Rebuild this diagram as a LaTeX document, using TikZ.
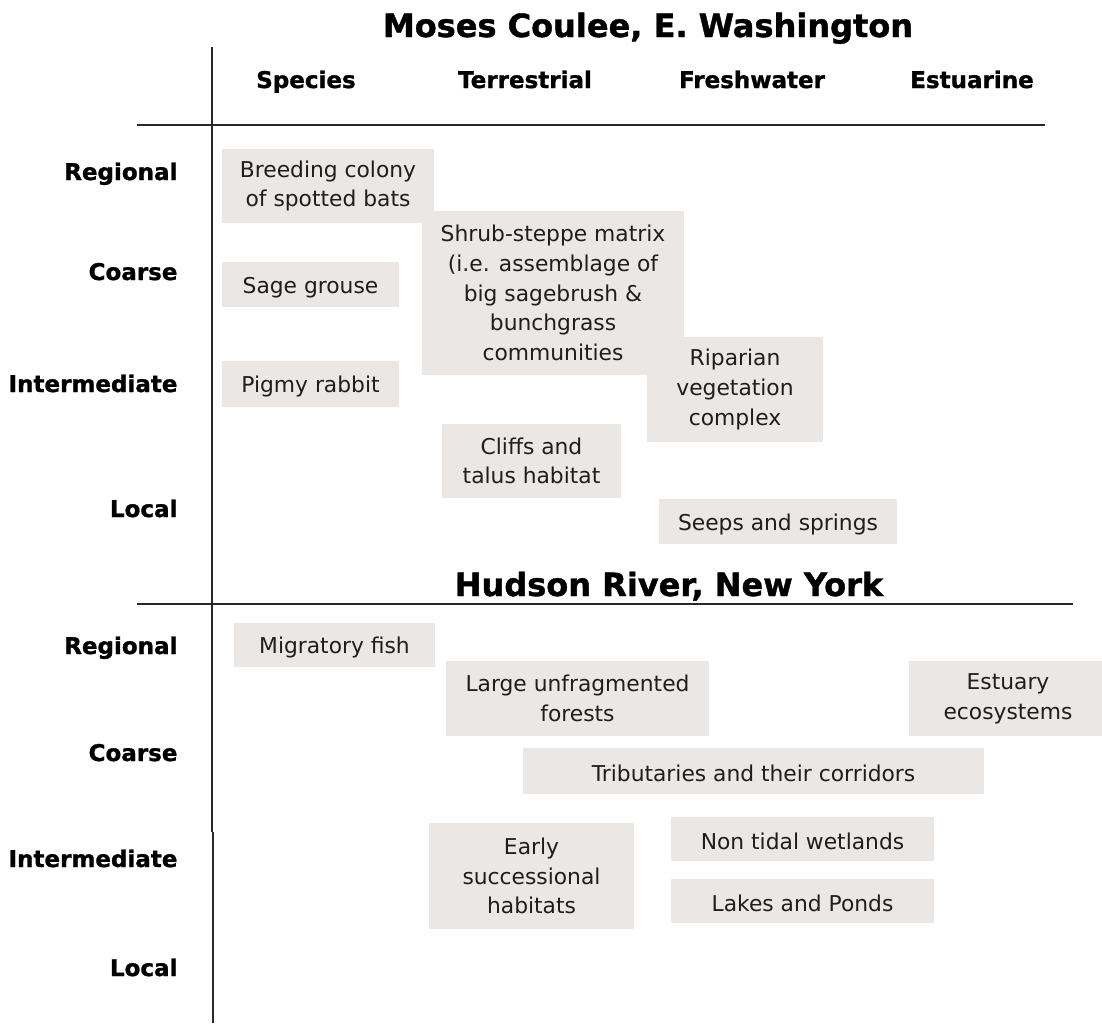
\documentclass[tikz,border=0pt]{standalone}
\usepackage{fontspec}
\setmainfont{DejaVu Sans}
\newfontfamily\heavyfont{DejaVu Sans}[BoldFeatures={FakeBold=1.2}]
\definecolor{boxfill}{RGB}{234,231,229}
\definecolor{boxtext}{RGB}{30,30,30}
\definecolor{rule}{RGB}{40,40,40}
\begin{document}
\begin{tikzpicture}[x=1pt,y=-1pt,
  cell/.style={fill=boxfill, draw=none, inner sep=0pt, align=center,
    text=boxtext, font=\fontsize{21.8}{29.7}\selectfont,
    execute at begin node={\rule{0pt}{22pt}}},
  colhead/.style={anchor=base, font=\fontsize{23}{28}\selectfont\heavyfont\bfseries},
  rowhead/.style={anchor=base east, font=\fontsize{23}{28}\selectfont\heavyfont\bfseries},
  title/.style={anchor=base, font=\fontsize{32}{38}\selectfont\heavyfont\bfseries},
  axis/.style={draw=rule, line width=1.6pt}]
\useasboundingbox (0,0) rectangle (1102,1023);
% titles
\node[title] (t1) at (648,37) {Moses Coulee, E. Washington};
\node[title] (t2) at (669,596) {Hudson River, New York};
% column headers
\node[colhead] (hs) at (306,88) {Species};
\node[colhead] (ht) at (525,88) {Terrestrial};
\node[colhead] (hf) at (752,88) {Freshwater};
\node[colhead] (he) at (972,88) {Estuarine};
% row headers top
\node[rowhead] (r1) at (181,180) {Regional};
\node[rowhead] (r2) at (181,280) {Coarse};
\node[rowhead] (r3) at (181,392) {Intermediate};
\node[rowhead] (r4) at (181,517) {Local};
% row headers bottom
\node[rowhead] (s1) at (181,654) {Regional};
\node[rowhead] (s2) at (181,761) {Coarse};
\node[rowhead] (s3) at (181,867) {Intermediate};
\node[rowhead] (s4) at (181,976) {Local};
% axes
\coordinate (vtop) at (212,47);
\coordinate (vmid) at (212,832);
\coordinate (vmid2) at (213,832);
\coordinate (vbot) at (213,1023);
\coordinate (h1a) at (137,125);
\coordinate (h1b) at (1045,125);
\coordinate (h2a) at (137,604);
\coordinate (h2b) at (1073,604);
\draw[axis] (vtop) -- (vmid);
\draw[axis] (vmid2) -- (vbot);
\draw[axis] (h1a) -- (h1b);
\draw[axis] (h2a) -- (h2b);
% Moses Coulee boxes
\node[cell, minimum width=212, minimum height=74] (bats) at (328,186) {Breeding colony\\of spotted bats};
\node[cell, minimum width=262, minimum height=164] (shrub) at (553,293) {Shrub-steppe matrix\\(i.e. assemblage of\\big sagebrush \&\\bunchgrass\\communities};
\node[cell, minimum width=177, minimum height=45] (sage) at (310.5,284.5) {Sage grouse};
\node[cell, minimum width=177, minimum height=46] (rabbit) at (310.5,384) {Pigmy rabbit};
\node[cell, minimum width=176, minimum height=105] (riparian) at (735,389.5) {Riparian\\vegetation\\complex};
\node[cell, minimum width=179, minimum height=74] (cliffs) at (531.5,461) {Cliffs and\\talus habitat};
\node[cell, minimum width=238, minimum height=45] (seeps) at (778,521.5) {Seeps and springs};
% Hudson River boxes
\node[cell, minimum width=201, minimum height=44] (fish) at (334.5,645) {Migratory fish};
\node[cell, minimum width=263, minimum height=75] (forests) at (577.5,698.5) {Large unfragmented\\forests};
\node[cell, minimum width=198, minimum height=75] (estuary) at (1008,698.5) {Estuary\\ecosystems};
\node[cell, minimum width=461, minimum height=46] (tribs) at (753.5,771) {Tributaries and their corridors};
\node[cell, minimum width=205, minimum height=106] (early) at (531.5,876) {Early\\successional\\habitats};
\node[cell, minimum width=263, minimum height=44] (nontidal) at (802.5,839) {Non tidal wetlands};
\node[cell, minimum width=263, minimum height=44] (lakes) at (802.5,901) {Lakes and Ponds};
\end{tikzpicture}
\end{document}
